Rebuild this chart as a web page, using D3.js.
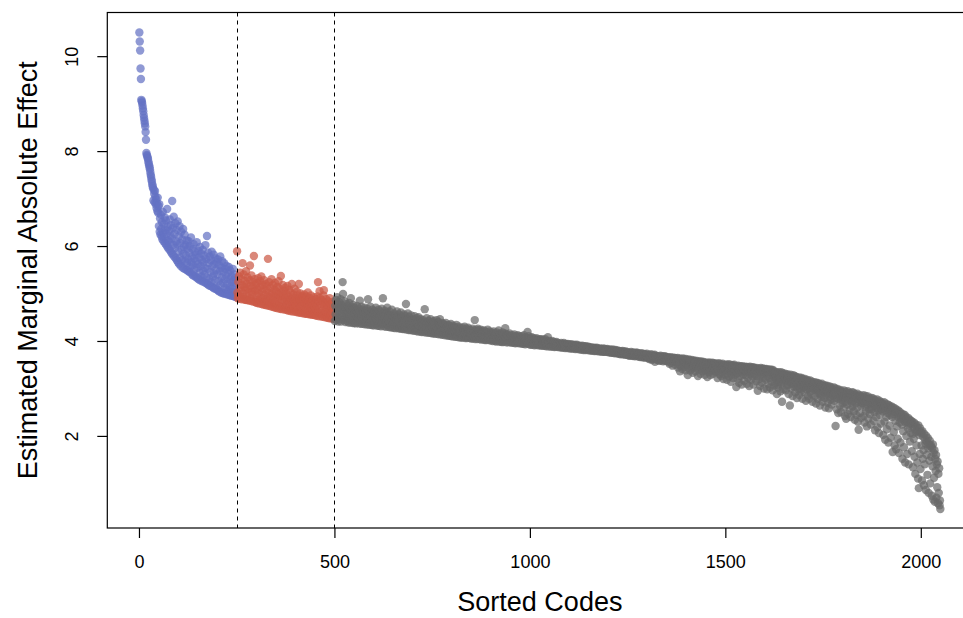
<!DOCTYPE html>
<html>
<head>
<meta charset="utf-8">
<script src="https://cdn.jsdelivr.net/npm/d3@7/dist/d3.min.js"></script>
<style>
body { margin: 0; background: #fff; }
text { font-family: "Liberation Sans", Arial, Helvetica, sans-serif; fill: #000; }
</style>
</head>
<body>
<svg width="963" height="618"></svg>
<script>
// codes 1-250 (blue)
var topCodes = [
10.50,10.31,10.12,9.74,9.52,9.08,9.05,9.02,8.96,8.90,8.84,8.76,8.70,8.64,8.58,8.52,8.40,8.24,7.96,7.92,7.90,7.86,7.84,7.78,7.74,
7.70,7.66,7.62,7.56,7.50,7.46,7.40,7.36,7.30,7.26,7.22,6.96,7.18,7.10,6.92,7.16,7.04,6.88,6.98,6.80,6.90,6.74,7.02,6.70,6.84,
6.42,6.88,6.30,6.58,6.24,6.66,6.36,6.20,6.50,6.14,6.72,6.28,6.10,6.46,6.18,6.60,6.06,6.34,6.54,6.02,6.26,6.78,5.98,6.40,6.12,
5.94,6.32,6.08,6.56,5.90,6.22,6.44,5.86,6.16,6.95,5.82,6.38,6.02,6.62,5.78,6.26,5.96,6.48,5.74,6.10,6.34,5.70,6.04,6.52,5.66,
5.88,6.20,5.62,6.42,5.76,6.06,5.58,6.30,5.92,5.70,6.14,5.54,6.36,5.84,5.98,5.52,6.24,5.68,6.02,5.80,5.50,6.12,5.64,5.94,5.48,
5.72,6.10,5.46,5.86,6.00,5.56,5.44,6.18,5.66,5.78,5.40,5.94,5.60,5.38,6.04,5.74,5.50,5.88,5.36,5.68,5.82,5.34,6.08,5.54,5.32,
5.62,5.90,5.30,5.76,5.44,5.98,5.28,5.58,5.84,5.36,5.70,5.26,5.92,5.48,5.66,5.24,5.80,5.40,5.54,6.02,5.22,5.72,5.34,6.21,5.20,
5.52,5.86,5.18,5.64,5.30,5.78,5.16,5.46,5.70,5.24,5.88,5.14,5.58,5.36,5.12,5.82,5.42,5.62,5.10,5.28,5.74,5.50,5.11,5.66,5.08,
5.40,5.72,5.06,5.26,5.60,5.04,5.48,5.78,5.18,5.02,5.54,5.34,5.68,5.01,5.22,5.46,5.00,5.64,5.30,5.12,5.52,4.99,5.38,5.58,5.08,
5.20,4.98,5.44,5.06,5.56,4.97,5.30,5.14,5.48,4.96,5.24,5.36,4.95,5.10,5.52,5.02,5.28,4.94,5.40,5.16,4.93,5.34,5.04,5.22,4.92
];

// codes 251-500 (red)
var midCodes = [
5.89,5.02,4.90,5.24,4.96,5.36,4.89,5.12,5.44,4.94,5.06,5.30,4.88,5.18,5.64,4.92,5.00,5.40,4.88,5.14,5.26,4.87,5.08,5.47,4.86,
5.20,4.94,5.34,4.86,5.10,5.02,4.85,5.28,5.59,4.90,5.16,4.84,5.38,5.04,4.98,5.24,4.83,5.12,5.79,4.88,5.30,4.82,5.06,5.18,4.81,
4.96,5.22,4.80,5.08,5.32,4.86,5.00,4.79,5.14,5.26,4.84,4.92,5.36,4.78,5.04,5.18,4.90,4.77,5.10,5.28,4.82,4.98,4.76,5.20,4.88,
4.75,5.06,5.16,4.84,5.73,4.94,4.74,5.24,5.00,4.80,5.12,4.73,4.90,5.30,4.78,5.02,4.72,5.18,4.86,4.96,4.71,5.08,5.22,4.82,4.70,
4.92,5.04,4.76,5.14,4.69,4.88,5.26,4.98,4.74,5.10,4.68,4.94,5.37,4.80,5.02,4.67,4.86,5.18,4.72,4.96,5.06,4.66,4.84,5.12,4.70,
4.90,5.00,4.65,4.78,5.16,4.86,4.64,4.94,5.08,4.72,4.82,4.63,5.02,4.88,4.68,5.20,4.76,4.62,4.92,4.98,4.70,4.84,5.10,4.62,4.80,
4.74,4.90,4.61,5.04,4.84,4.66,4.96,4.60,5.20,4.78,4.88,4.60,5.00,4.70,4.82,4.59,4.92,4.76,4.95,4.64,4.86,4.58,4.98,4.72,4.80,
4.58,4.88,4.68,4.94,4.57,4.78,5.02,4.64,4.84,4.56,4.74,4.90,4.62,4.56,4.96,4.70,4.82,4.55,4.66,4.86,4.76,4.55,4.92,4.60,4.72,
4.54,4.80,4.66,4.88,4.53,4.74,4.94,5.24,4.60,4.84,4.52,5.05,4.70,4.90,4.58,4.78,4.52,4.86,4.64,4.51,4.82,4.96,5.07,4.56,4.72,
4.50,4.80,4.62,4.88,4.50,4.68,4.76,4.49,4.84,4.58,4.72,4.48,4.90,4.64,4.54,4.78,4.48,4.70,4.60,4.82,4.47,4.66,4.74,4.52,4.47
];

// codes 501-2050 (grey)
var restCodes = [
4.42,4.74,4.56,4.86,4.44,4.68,4.92,4.50,4.78,4.41,4.62,4.82,4.46,4.70,4.58,4.88,4.41,4.66,4.76,4.52,5.24,4.99,4.44,4.72,4.60,
4.84,4.48,4.40,4.70,4.56,4.78,4.42,4.64,4.52,4.74,4.39,4.60,4.80,4.46,4.68,4.39,4.90,4.54,4.72,4.44,4.62,4.38,4.76,4.50,4.66,
4.38,4.58,4.70,4.46,4.37,4.64,4.52,4.74,4.40,4.60,4.48,4.68,4.37,4.56,4.85,4.44,4.62,4.36,4.72,4.50,4.42,4.66,4.36,4.54,4.60,
4.46,4.70,4.35,4.58,4.40,4.64,4.50,4.35,4.68,4.44,4.88,4.56,4.34,4.62,4.48,4.38,4.72,4.52,4.34,4.60,4.42,4.66,4.33,4.54,4.46,
4.58,4.33,4.64,4.40,4.52,4.70,4.36,4.46,4.60,4.32,4.56,4.42,4.66,4.32,4.50,4.38,4.62,4.44,4.31,4.54,4.68,4.36,4.48,4.90,4.40,
4.58,4.31,4.46,4.64,4.36,4.52,4.30,4.60,4.42,4.70,4.34,4.50,4.30,4.56,4.40,4.62,4.29,4.46,4.38,4.54,4.29,4.66,4.44,4.34,4.52,
4.28,4.40,4.58,4.32,4.48,4.27,4.54,4.36,4.44,4.62,4.30,4.50,4.27,4.42,4.56,4.34,4.26,4.46,4.38,4.60,4.26,4.52,4.32,4.44,4.25,
4.48,4.36,4.56,4.25,4.42,4.30,4.52,4.78,4.24,4.40,4.46,4.28,4.58,4.34,4.23,4.50,4.38,4.44,4.23,4.32,4.54,4.26,4.42,4.36,4.22,
4.46,4.30,4.38,4.22,4.52,4.34,4.26,4.44,4.21,4.40,4.48,4.28,4.36,4.20,4.50,4.32,4.42,4.24,4.38,4.20,4.46,4.30,4.19,4.40,4.34,
4.26,4.44,4.19,4.36,4.30,4.67,4.22,4.40,4.18,4.34,4.48,4.24,4.38,4.18,4.30,4.42,4.20,4.36,4.17,4.28,4.46,4.22,4.32,4.16,4.40,
4.28,4.36,4.16,4.42,4.22,4.32,4.15,4.38,4.26,4.20,4.44,4.30,4.15,4.34,4.24,4.40,4.14,4.28,4.36,4.46,4.20,4.32,4.14,4.26,4.38,
4.13,4.30,4.22,4.36,4.16,4.26,4.34,4.12,4.24,4.38,4.18,4.30,4.12,4.28,4.20,4.34,4.11,4.24,4.32,4.16,4.26,4.11,4.36,4.20,4.10,
4.28,4.18,4.32,4.10,4.24,4.14,4.30,4.20,4.09,4.26,4.16,4.34,4.09,4.22,4.28,4.12,4.20,4.08,4.30,4.16,4.24,4.08,4.18,4.26,4.07,
4.22,4.14,4.28,4.07,4.18,4.24,4.10,4.30,4.16,4.06,4.22,4.12,4.26,4.06,4.20,4.14,4.28,4.08,4.18,4.24,4.06,4.16,4.22,4.10,4.05,
4.20,4.12,4.26,4.05,4.16,4.22,4.08,4.18,4.44,4.04,4.14,4.24,4.10,4.20,4.04,4.16,4.26,4.08,4.12,4.22,4.04,4.18,4.10,4.24,4.03,
4.14,4.20,4.06,4.18,4.10,4.03,4.22,4.12,4.16,4.02,4.20,4.08,4.14,4.02,4.18,4.10,4.24,4.06,4.12,4.02,4.16,4.20,4.04,4.10,4.01,
4.12,4.18,4.04,4.14,4.00,4.08,4.20,4.02,4.10,4.16,4.00,4.06,4.12,3.99,4.18,4.08,4.02,4.14,4.06,4.22,3.99,4.10,4.04,4.16,3.99,
4.08,4.14,3.98,4.04,4.18,4.10,3.98,4.06,4.12,4.00,4.16,4.27,4.02,4.08,3.97,4.14,4.04,4.10,3.97,4.12,4.02,4.06,4.16,3.98,4.08,
4.02,4.10,3.96,4.06,4.12,3.98,4.04,4.08,3.96,4.14,4.00,4.06,3.95,4.10,4.02,4.08,3.96,4.04,4.12,3.98,4.06,3.95,4.10,4.00,4.04,
3.96,4.08,4.02,3.94,4.10,4.04,3.98,4.06,3.94,4.12,4.00,4.04,3.93,4.08,4.02,3.96,4.06,4.00,4.19,3.94,4.04,4.10,3.98,3.93,4.06,
4.00,3.92,4.04,3.96,4.08,3.98,3.92,4.02,4.06,3.94,4.00,3.91,4.04,3.96,4.02,3.92,4.06,3.98,3.94,4.02,3.91,4.00,3.96,4.04,3.92,
3.98,4.02,3.90,3.96,4.04,3.92,4.00,3.94,3.90,4.02,3.96,3.98,3.90,4.04,3.94,3.98,3.89,4.00,3.92,3.96,4.08,3.89,3.98,3.94,4.00,
3.92,3.96,3.88,3.98,3.94,3.90,4.00,3.88,3.94,3.96,3.90,3.98,3.87,3.94,3.92,3.96,3.88,3.98,3.90,3.94,3.87,3.96,3.92,3.88,3.94,
3.90,3.94,3.86,3.92,3.96,3.88,3.92,3.86,3.94,3.90,3.86,3.96,3.88,3.92,3.85,3.94,3.90,3.88,3.93,3.85,3.90,3.94,3.86,3.92,3.88,
3.90,3.84,3.92,3.86,3.88,3.93,3.84,3.90,3.87,3.91,3.84,3.88,3.92,3.85,3.89,3.83,3.91,3.86,3.88,3.92,3.83,3.87,3.90,3.84,3.88,
3.86,3.90,3.82,3.88,3.85,3.89,3.82,3.86,3.90,3.83,3.87,3.81,3.89,3.84,3.86,3.88,3.81,3.85,3.89,3.83,3.87,3.81,3.86,3.84,3.88,
3.82,3.86,3.80,3.84,3.87,3.81,3.85,3.80,3.83,3.86,3.80,3.84,3.82,3.86,3.79,3.83,3.85,3.80,3.84,3.79,3.86,3.82,3.80,3.84,3.81,
3.83,3.78,3.82,3.80,3.84,3.78,3.81,3.83,3.78,3.80,3.82,3.77,3.84,3.79,3.81,3.77,3.83,3.80,3.78,3.82,3.77,3.80,3.83,3.78,3.81,
3.76,3.80,3.78,3.82,3.76,3.79,3.81,3.75,3.78,3.80,3.76,3.82,3.75,3.79,3.77,3.80,3.74,3.78,3.81,3.75,3.77,3.79,3.74,3.80,3.76,
3.78,3.73,3.76,3.79,3.74,3.77,3.72,3.78,3.75,3.73,3.77,3.79,3.72,3.75,3.78,3.73,3.76,3.71,3.77,3.74,3.78,3.72,3.75,3.71,3.76,
3.74,3.70,3.76,3.72,3.69,3.75,3.73,3.70,3.77,3.71,3.74,3.69,3.72,3.76,3.70,3.73,3.68,3.75,3.71,3.74,3.68,3.72,3.76,3.69,3.73,
3.70,3.74,3.67,3.72,3.68,3.73,3.66,3.71,3.69,3.74,3.66,3.70,3.72,3.67,3.73,3.65,3.70,3.68,3.72,3.65,3.71,3.67,3.69,3.73,3.66,
3.68,3.64,3.71,3.66,3.62,3.70,3.65,3.69,3.63,3.72,3.66,3.60,3.68,3.64,3.70,3.62,3.67,3.65,3.71,3.56,3.66,3.69,3.63,3.68,3.61,
3.66,3.60,3.68,3.63,3.65,3.58,3.67,3.62,3.69,3.64,3.59,3.66,3.61,3.68,3.63,3.57,3.65,3.67,3.60,3.64,3.68,3.58,3.62,3.66,3.59,
3.64,3.60,3.66,3.56,3.62,3.65,3.52,3.60,3.64,3.58,3.66,3.54,3.61,3.63,3.48,3.59,3.65,3.56,3.62,3.60,3.64,3.50,3.58,3.63,3.55,
3.62,3.56,3.64,3.44,3.59,3.61,3.50,3.63,3.36,3.57,3.60,3.47,3.62,3.54,3.41,3.60,3.63,3.52,3.58,3.45,3.61,3.56,3.38,3.62,3.53,
3.58,3.50,3.60,3.28,3.55,3.44,3.61,3.52,3.57,3.38,3.59,3.47,3.54,3.60,3.42,3.56,3.33,3.58,3.50,3.46,3.59,3.53,3.36,3.57,3.48,
3.55,3.44,3.58,3.51,3.26,3.56,3.40,3.53,3.57,3.46,3.31,3.54,3.50,3.57,3.42,3.55,3.36,3.52,3.48,3.56,3.44,3.29,3.54,3.50,3.38,
3.52,3.46,3.54,3.24,3.40,3.53,3.49,3.34,3.55,3.44,3.51,3.28,3.48,3.53,3.38,3.50,3.54,3.42,3.31,3.52,3.46,3.36,3.53,3.40,3.49,
3.51,3.35,3.46,3.52,3.22,3.42,3.50,3.38,3.53,3.30,3.47,3.44,3.51,3.26,3.40,3.49,3.34,3.52,3.45,3.20,3.48,3.37,3.50,3.42,3.28,
3.49,3.40,3.50,3.18,3.44,3.32,3.48,3.51,3.36,3.25,3.46,3.42,3.50,3.14,3.38,3.47,3.30,3.49,3.43,3.22,3.48,3.35,3.50,3.40,3.28,
3.46,3.38,3.03,3.47,3.32,3.44,3.20,3.48,3.40,3.12,3.45,3.36,3.47,3.26,3.42,3.46,3.08,3.34,3.44,3.47,3.30,3.40,3.16,3.45,3.38,
3.44,3.28,3.46,3.36,3.10,3.42,3.45,3.22,3.38,3.44,3.05,3.34,3.46,3.30,3.41,3.18,3.43,3.37,3.45,3.25,3.40,3.08,3.44,3.33,3.42,
3.30,3.42,3.38,3.15,3.43,3.26,3.40,2.95,3.36,3.42,3.20,3.34,3.41,3.05,3.38,3.43,3.28,3.12,3.40,3.35,3.42,3.22,3.38,3.00,3.41,
3.32,3.40,3.18,3.38,3.41,3.26,2.98,3.36,3.40,3.10,3.34,3.39,3.22,3.02,3.37,3.40,3.28,3.14,3.38,3.33,2.96,3.39,3.24,3.36,3.06,
3.30,3.22,3.12,3.35,3.26,3.18,2.88,3.33,3.08,3.02,3.28,3.34,3.14,3.24,3.31,2.94,3.20,3.34,3.10,2.72,3.27,3.32,2.98,3.16,3.29,
3.25,3.12,3.31,3.20,2.96,3.28,3.16,3.06,3.30,3.22,3.08,2.88,3.27,3.14,2.64,3.24,3.29,3.00,3.18,3.26,3.10,2.84,3.21,3.28,3.04,
3.20,3.10,3.26,2.92,3.16,3.04,3.24,2.80,3.12,3.22,2.98,3.18,3.06,2.86,3.23,3.14,3.00,2.94,3.20,3.08,3.22,2.78,3.15,3.02,3.19,
3.14,3.04,2.92,3.20,3.10,2.74,3.16,2.98,3.12,3.18,2.84,3.06,3.15,3.00,2.78,3.11,3.17,2.94,3.08,2.88,3.02,3.14,2.72,3.10,3.05,
3.08,2.98,3.13,2.84,3.04,3.10,2.68,2.96,3.12,3.00,2.78,3.06,3.11,2.90,2.94,3.09,2.64,3.02,2.88,3.07,2.82,3.10,2.96,2.72,3.04,
3.02,2.92,3.07,2.80,2.98,2.60,3.05,2.86,2.96,3.06,2.94,2.70,3.00,2.88,2.58,3.04,2.82,2.97,2.76,3.03,2.90,2.66,2.99,2.93,2.84,
2.96,2.86,3.02,2.74,2.92,3.00,2.21,2.80,2.94,2.56,2.88,2.99,2.78,2.48,2.95,2.84,2.90,2.64,2.97,2.82,2.50,2.93,2.76,2.91,2.68,
2.90,2.80,2.96,2.60,2.86,2.42,2.93,2.72,2.36,2.88,2.82,2.66,2.94,2.46,2.84,2.76,2.91,2.54,2.78,2.89,2.40,2.85,2.70,2.92,2.62,
2.86,2.74,2.91,2.52,2.80,2.34,2.88,2.68,2.84,2.44,2.78,2.60,2.89,2.30,2.82,2.13,2.72,2.86,2.48,2.76,2.84,2.64,2.38,2.80,2.70,
2.82,2.68,2.86,2.42,2.74,2.28,2.80,2.60,2.84,2.52,2.72,2.20,2.78,2.66,2.83,2.36,2.70,2.56,2.79,2.46,2.74,2.24,2.68,2.80,2.56,
2.74,2.62,2.79,2.32,2.68,2.50,2.76,2.12,2.64,2.72,2.40,2.58,2.77,2.18,2.66,2.70,2.54,2.06,2.74,2.44,2.62,2.71,2.26,2.56,2.68,
2.70,2.52,2.66,2.02,2.58,2.71,2.30,2.62,1.92,2.54,2.68,2.40,2.14,2.60,2.48,2.66,1.86,2.56,2.64,2.22,2.44,2.60,1.96,2.52,2.62,
2.56,2.40,1.66,2.60,2.46,2.08,2.52,1.80,2.58,2.32,2.50,1.72,2.55,2.20,2.48,1.94,2.40,2.53,1.64,2.44,2.28,2.50,1.86,2.36,2.46,
2.42,2.24,1.52,2.46,2.10,2.38,1.76,2.32,2.44,1.44,2.28,2.40,2.00,2.34,1.62,2.30,2.16,2.38,1.40,2.22,2.34,1.88,2.26,2.06,2.32,
2.26,1.68,2.30,2.04,1.34,2.20,1.94,2.28,1.56,2.14,1.20,2.24,2.08,1.80,2.18,1.44,2.10,1.10,2.22,0.90,2.02,1.62,2.16,1.30,2.06,
2.08,1.80,1.06,2.10,1.52,1.98,1.70,0.96,2.04,1.40,1.92,1.84,0.86,2.00,1.60,1.88,1.18,1.95,1.74,0.80,1.82,1.48,1.90,1.00,1.78,
1.80,1.56,0.74,1.74,1.36,1.82,0.66,1.64,1.12,1.70,0.61,1.52,1.26,1.60,0.70,1.40,0.92,1.46,0.58,1.20,0.80,1.32,0.54,0.64,0.46
];

var cutoffs = [250, 500];
var xTicks = [0, 500, 1000, 1500, 2000];
var yTicks = [2, 4, 6, 8, 10];
var groupColors = ["#6472c4", "#cc5a46", "#6a6a6a"];

// one record per code, codes numbered in sorted order
var points = [];
[topCodes, midCodes, restCodes].forEach(function (vals, g) {
    vals.forEach(function (v) {
        points.push({ code: points.length + 1, value: v, group: g });
    });
});

var svg = d3.select("svg");
var box = { left: 107.3, right: 972.4, top: 12.5, bottom: 528 };

var xScale = d3.scaleLinear().domain([-81, 2132]).range([box.left, box.right]);
var yScale = d3.scaleLinear().domain([0.06, 10.92]).range([box.bottom, box.top]);

// points
svg.append("g").selectAll("circle")
    .data(points)
    .enter()
    .append("circle")
    .attr("cx", function (d) { return xScale(d.code); })
    .attr("cy", function (d) { return yScale(d.value); })
    .attr("r", 4.2)
    .attr("fill", function (d) { return groupColors[d.group]; })
    .attr("fill-opacity", 0.72);

// cutoff lines
svg.append("g").selectAll("line")
    .data(cutoffs)
    .enter()
    .append("line")
    .attr("x1", function (d) { return Math.round(xScale(d)) + 0.5; })
    .attr("x2", function (d) { return Math.round(xScale(d)) + 0.5; })
    .attr("y1", box.top)
    .attr("y2", box.bottom)
    .attr("stroke", "#000")
    .attr("stroke-width", 1)
    .attr("stroke-dasharray", "4,4");

// frame
svg.append("rect")
    .attr("x", box.left)
    .attr("y", box.top)
    .attr("width", box.right - box.left)
    .attr("height", box.bottom - box.top)
    .attr("fill", "none")
    .attr("stroke", "#000")
    .attr("stroke-width", 1.2);

// x axis
var xAxis = svg.append("g")
    .attr("transform", "translate(0," + box.bottom + ")")
    .call(d3.axisBottom(xScale).tickValues(xTicks).tickSize(10).tickPadding(17).tickFormat(d3.format("d")));
xAxis.select(".domain").remove();
xAxis.selectAll("text").style("font-size", "18px").attr("dy", "0.71em");
xAxis.selectAll("line").attr("stroke", "#000").attr("stroke-width", 1.2);

// y axis
var yAxis = svg.append("g")
    .attr("transform", "translate(" + box.left + ",0)")
    .call(d3.axisLeft(yScale).tickValues(yTicks).tickSize(10).tickFormat(d3.format("d")));
yAxis.select(".domain").remove();
yAxis.selectAll("line").attr("stroke", "#000").attr("stroke-width", 1.2);
yAxis.selectAll("text")
    .style("font-size", "18px")
    .attr("text-anchor", "middle")
    .attr("x", 0)
    .attr("dy", 0)
    .attr("transform", "translate(-29,0) rotate(-90)");

// titles
svg.append("text")
    .attr("x", (xScale(0) + xScale(2000)) / 2 + 10)
    .attr("y", 611)
    .attr("text-anchor", "middle")
    .style("font-size", "27px")
    .text("Sorted Codes");

svg.append("text")
    .attr("transform", "translate(37," + ((box.top + box.bottom) / 2) + ") rotate(-90)")
    .attr("text-anchor", "middle")
    .style("font-size", "27px")
    .text("Estimated Marginal Absolute Effect");
</script>
</body>
</html>
